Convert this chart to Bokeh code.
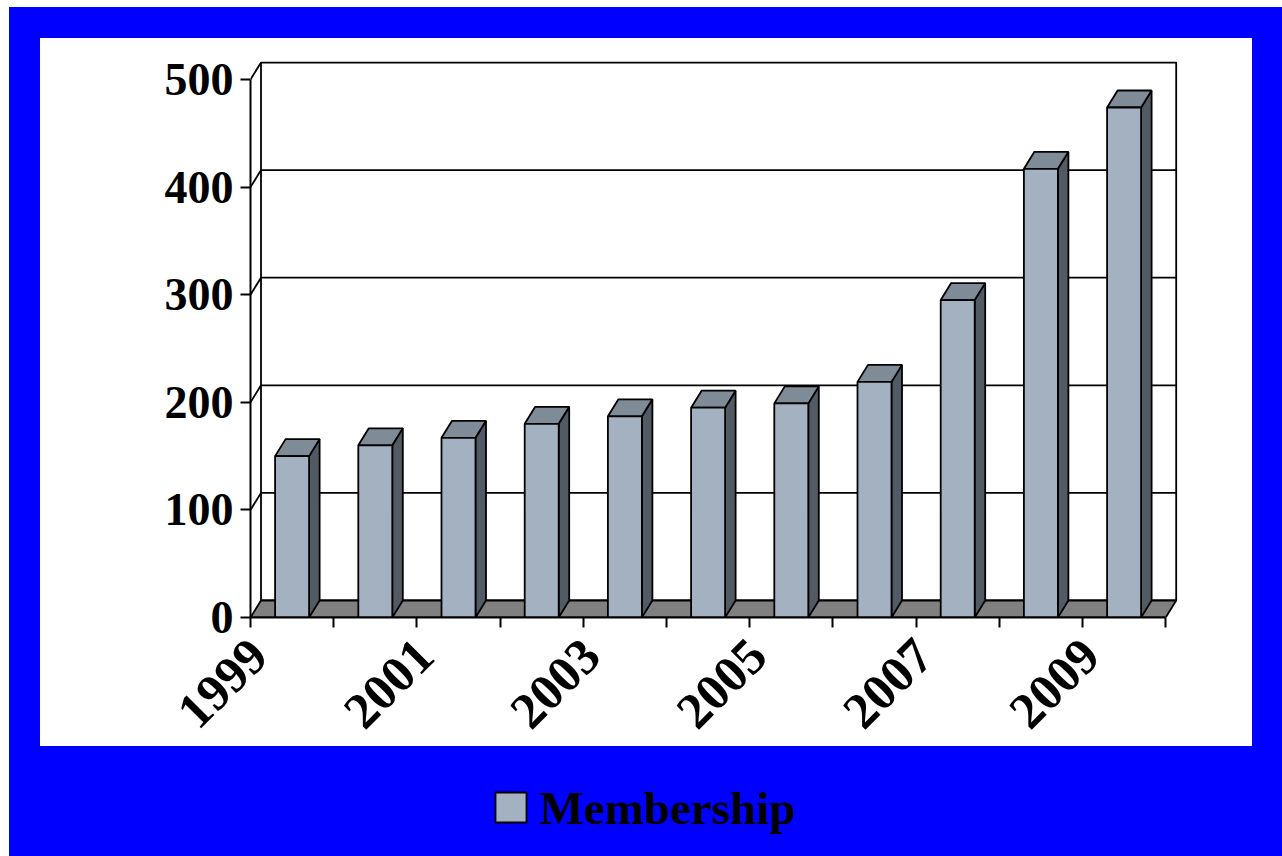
import math
from bokeh.plotting import figure
from bokeh.models import FixedTicker, Range1d
from bokeh.layouts import column
from bokeh.core.properties import value
from bokeh.embed import file_html
from bokeh.resources import INLINE

# ---- data ----
years = [1999, 2000, 2001, 2002, 2003, 2004, 2005, 2006, 2007, 2008, 2009]
membership = [150, 160, 167, 180, 187, 195, 199, 219, 295, 417, 474]
y_ticks = [0, 100, 200, 300, 400, 500]
x_label_years = ["1999", "2001", "2003", "2005", "2007", "2009"]
series_name = "Membership"

# ---- styling / geometry (pixels) ----
PX_X = 83.2      # px per category
PX_Y = 1.076     # px per value unit
FRAME_W = 928
FRAME_H = 556
BORDER_L, BORDER_R = 210, 74
DX = 10.5 / PX_X   # depth offset, category units
DY = 17.0 / PX_Y   # depth offset, value units
BW = 34.0 / PX_X   # bar front width
FRONT = "#A4B1C0"
TOP = "#7F8B97"
SIDE = "#525A63"
FLOOR = "#808080"
BLUE = "#0000FF"
FONT = "Liberation Serif"
FS = "46px"
FSX = "51px"
FSL = "47px"
LW = 1.8

n = len(years)
y_max = y_ticks[-1]
x_end = FRAME_W / PX_X
y_end = FRAME_H / PX_Y

p = figure(frame_width=FRAME_W, frame_height=FRAME_H,
           x_range=Range1d(0, x_end), y_range=Range1d(0, y_end),
           min_border_left=BORDER_L, min_border_right=BORDER_R,
           min_border_top=23, min_border_bottom=129,
           toolbar_location=None, output_backend="svg")
p.margin = (31, 30, 0, 31)
p.styles = {"background-color": "white"}
p.background_fill_color = "white"
p.border_fill_color = "white"
p.outline_line_color = None
p.grid.visible = False

# back wall
p.quad(left=[DX], right=[n + DX], bottom=[DY], top=[y_max + DY],
       fill_color="white", line_color="black", line_width=LW)
# gridlines on back wall
grid_vals = y_ticks[1:-1]
p.segment(x0=[DX] * len(grid_vals), x1=[n + DX] * len(grid_vals),
          y0=[v + DY for v in grid_vals], y1=[v + DY for v in grid_vals],
          line_color="black", line_width=LW)
# side wall diagonals
side_vals = y_ticks[1:]
p.segment(x0=[0] * len(side_vals), x1=[DX] * len(side_vals),
          y0=side_vals, y1=[v + DY for v in side_vals],
          line_color="black", line_width=LW)
# floor
p.patch(x=[0, n, n + DX, DX], y=[0, 0, DY, DY],
        fill_color=FLOOR, line_color="black", line_width=LW)

centers = [i + 0.5 for i in range(n)]
lefts = [c - BW / 2 for c in centers]
rights = [c + BW / 2 for c in centers]

# side faces
p.patches(xs=[[r, r + DX, r + DX, r] for r in rights],
          ys=[[0, DY, v + DY, v] for v in membership],
          fill_color=SIDE, line_color="black", line_width=LW)
# top faces
p.patches(xs=[[l, r, r + DX, l + DX] for l, r in zip(lefts, rights)],
          ys=[[v, v, v + DY, v + DY] for v in membership],
          fill_color=TOP, line_color="black", line_width=LW)
# front faces
p.quad(left=lefts, right=rights, bottom=[0] * n, top=membership,
       fill_color=FRONT, line_color="black", line_width=LW)

# y axis
ya = p.yaxis[0]
ya.ticker = FixedTicker(ticks=y_ticks)
ya.bounds = (0, y_max)
ya.axis_line_color = "black"
ya.axis_line_width = 2
ya.major_tick_out = 10
ya.major_tick_in = 0
ya.major_tick_line_width = 2
ya.minor_tick_out = 0
ya.minor_tick_in = 0
ya.major_label_standoff = 7
ya.major_label_text_font = FONT
ya.major_label_text_font_style = "bold"
ya.major_label_text_font_size = FS
ya.major_label_text_color = "black"

# x axis
SHIFT = 0.4
label_pos = [round(centers[2 * i] - SHIFT, 3) for i in range(len(x_label_years))]
xa = p.xaxis[0]
xa.ticker = FixedTicker(ticks=label_pos, minor_ticks=list(range(n + 1)))
xa.major_label_overrides = {pos: lab for pos, lab in zip(label_pos, x_label_years)}
xa.bounds = (0, n)
xa.axis_line_color = "black"
xa.axis_line_width = 2
xa.major_tick_out = 0
xa.major_tick_in = 0
xa.minor_tick_out = 10
xa.minor_tick_in = 0
xa.minor_tick_line_width = 2
xa.major_label_orientation = math.pi / 4
xa.major_label_standoff = 20
xa.major_label_text_font = FONT
xa.major_label_text_font_style = "bold"
xa.major_label_text_font_size = FSX
xa.major_label_text_color = "black"

# legend strip: same horizontal geometry as the chart so the frames line up;
# its ranges are pixels measured from the strip frame's left / bottom edge.
LEG_H = 110
p2 = figure(frame_width=FRAME_W, frame_height=LEG_H,
            x_range=Range1d(0, FRAME_W), y_range=Range1d(0, LEG_H),
            x_axis_type=None, y_axis_type=None,
            min_border_left=BORDER_L, min_border_right=BORDER_R,
            min_border_top=0, min_border_bottom=0,
            toolbar_location=None, output_backend="svg")
p2.margin = (0, 30, 0, 31)
p2.styles = {"background-color": BLUE}
p2.background_fill_color = BLUE
p2.border_fill_color = BLUE
p2.outline_line_color = None
p2.grid.visible = False
p2.quad(left=[245], right=[276], bottom=[34], top=[64],
        fill_color=FRONT, line_color="black", line_width=LW)
p2.text(x=[289], y=[49], text=[series_name], text_font=value(FONT),
        text_font_style="bold", text_font_size=FSL, text_color="black",
        text_align="left", text_baseline="alphabetic")

layout = column(p, p2, styles={"background-color": BLUE})
layout.margin = (7, 0, 0, 9)

open("out.html", "w").write(file_html(layout, INLINE))
